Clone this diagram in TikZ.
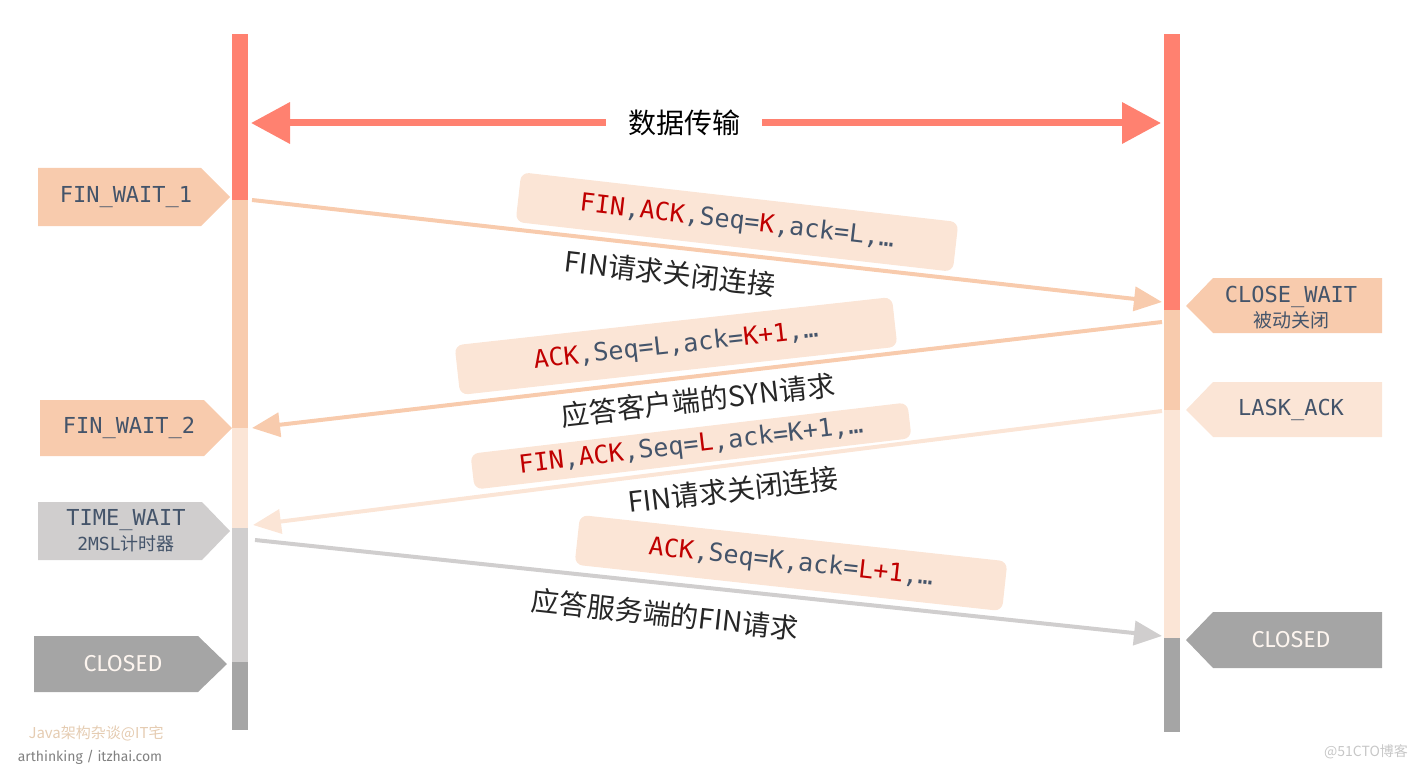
\documentclass[tikz,border=0pt]{standalone}
\usepackage{fontspec}
\setmainfont{Noto Sans CJK SC}
\setsansfont{Fira Sans}
\setmonofont{DejaVu Sans Mono}
\usepackage{xcolor}
\usepackage{tikz}
\usetikzlibrary{arrows.meta}

\definecolor{salmon}{HTML}{FF8170}
\definecolor{peach}{HTML}{F8CBAD}
\definecolor{lightpeach}{HTML}{FBE5D6}
\definecolor{lightgray}{HTML}{D0CECE}
\definecolor{darkgray}{HTML}{A5A5A5}
\definecolor{slate}{HTML}{44546A}
\definecolor{finred}{HTML}{C00000}
\newcommand{\hl}[1]{\textcolor{finred}{#1}}
\newcommand{\px}[1]{\fontsize{#1}{#1}\selectfont}

\begin{document}
\begin{tikzpicture}[x=1pt,y=-1pt,
		msgbox/.style={rounded corners=8pt, fill=lightpeach, minimum width=440pt, minimum height=50pt, inner sep=0pt, text=slate, font=\ttfamily\px{25}},
		note/.style={text=black!85, font=\px{28}},
		msg/.style={line width=4pt, -{Triangle[length=28pt,width=24pt]}},
		big/.style={salmon, line width=7pt, -{Triangle[length=39pt,width=40pt]}},
		tagtext/.style={text=slate, font=\ttfamily\px{22}, align=center}]
		\useasboundingbox (0,0) rectangle (1420,770);
		
		% the two timelines
		\fill[salmon] (232,34) rectangle (248,200);
		\fill[peach] (232,200) rectangle (248,428);
		\fill[lightpeach] (232,428) rectangle (248,528);
		\fill[lightgray] (232,528) rectangle (248,662);
		\fill[darkgray] (232,662) rectangle (248,730);
		\fill[salmon] (1164,34) rectangle (1180,310);
		\fill[peach] (1164,310) rectangle (1180,410);
		\fill[lightpeach] (1164,410) rectangle (1180,638);
		\fill[darkgray] (1164,638) rectangle (1180,732);
		
		\coordinate (l0) at (251,123);
		\coordinate (r0) at (1161,123);
		\coordinate (l1) at (252,200);
		\coordinate (r1) at (1162,302);
		\coordinate (r2) at (1162,322);
		\coordinate (l2) at (252,428);
		\coordinate (r3) at (1162,411);
		\coordinate (l3) at (253,525);
		\coordinate (l4) at (255,540);
		\coordinate (r4) at (1162,636);
		
		\node[font=\px{28}, inner xsep=22pt] (data) at (684,123) {数据传输};
		\draw[big] (data.west) -- (l0);
		\draw[big] (data.east) -- (r0);
		
		% states, client side
		\fill[peach] (38,168) -- (201,168) -- (230,197) -- (201,226) -- (38,226) -- cycle;
		\node[tagtext] (fw1) at (126,197) {FIN\_WAIT\_1};
		\fill[peach] (40,400) -- (204,400) -- (232,428) -- (204,456) -- (40,456) -- cycle;
		\node[tagtext] (fw2) at (129,428) {FIN\_WAIT\_2};
		\fill[lightgray] (38,502) -- (202,502) -- (230,531) -- (202,560) -- (38,560) -- cycle;
		\node[tagtext] (tw) at (126,531) {TIME\_WAIT\\[3pt]{\px{18}2MSL{\rmfamily 计时器}}};
		\fill[darkgray] (34,636) -- (198,636) -- (227,664) -- (198,692) -- (34,692) -- cycle;
		\node[text=lightpeach!40, font=\sffamily\px{23}] (cl) at (123,664) {CLOSED};
		
		% states, server side
		\fill[peach] (1382,278) -- (1213,278) -- (1186,306) -- (1213,333) -- (1382,333) -- cycle;
		\node[tagtext] (cw) at (1291,308) {CLOSE\_WAIT\\[3pt]{\rmfamily\px{19}被动关闭}};
		\fill[lightpeach] (1382,382) -- (1213,382) -- (1186,410) -- (1213,437) -- (1382,437) -- cycle;
		\node[tagtext] (la) at (1291,410) {LASK\_ACK};
		\fill[darkgray] (1382,612) -- (1213,612) -- (1186,640) -- (1213,668) -- (1382,668) -- cycle;
		\node[text=lightpeach!40, font=\sffamily\px{23}] (cr) at (1291,640) {CLOSED};
		
		% messages
		\draw[msg, peach] (l1) -- (r1);
		\draw[msg, peach] (r2) -- (l2);
		\draw[msg, lightpeach] (r3) -- (l3);
		\draw[msg, lightgray] (l4) -- (r4);
		
		\node[msgbox, rotate=-6.5] (m1) at (737,222) {\hl{FIN},\hl{ACK},Seq=\hl{K},ack=L,…};
		\node[note, rotate=-6.5] (n1) at (670,273) {FIN请求关闭连接};
		\node[msgbox, rotate=6.3] (m2) at (676,346) {\hl{ACK},Seq=L,ack=\hl{K+1},…};
		\node[note, rotate=6.5] (n2) at (698,400) {应答客户端的SYN请求};
		\node[msgbox, rotate=6.7, minimum height=36pt] (m3) at (691,446) {\hl{FIN},\hl{ACK},Seq=\hl{L},ack=K+1,…};
		\node[note, rotate=6.7] (n3) at (733,490) {FIN请求关闭连接};
		\node[msgbox, rotate=-6.2, minimum width=430pt] (m4) at (791,563) {\hl{ACK},Seq=K,ack=\hl{L+1},…};
		\node[note, rotate=-6.2] (n4) at (665,614) {应答服务端的FIN请求};
		
		% watermarks
		\node[text=brown!40, font=\px{15}] (wm1) at (96,733) {Java架构杂谈@IT宅};
		\node[text=black!50, font=\sffamily\px{14}] (wm2) at (90,757) {arthinking / itzhai.com};
		\node[text=black!22, font=\px{14}] (wm3) at (1366,752) {@51CTO博客};
	\end{tikzpicture}
\end{document}
